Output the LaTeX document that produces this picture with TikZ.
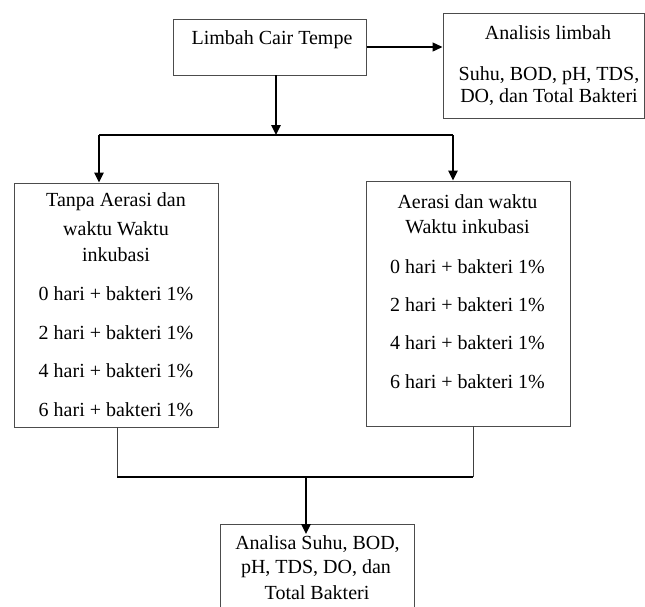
\documentclass[tikz,border=0pt]{standalone}
\usepackage{fontspec}
\setmainfont{Liberation Serif}
\usetikzlibrary{arrows.meta}
\begin{document}
\begin{tikzpicture}[x=1pt,y=-1pt,
  boxst/.style={draw=black!70,line width=1pt,inner sep=0pt},
  txt/.style={inner sep=0pt,font=\fontsize{20}{24}\selectfont,anchor=center},
  thick/.style={line width=2.4pt,black},
  thin/.style={line width=1pt,black!75},
  tip/.style={-{Triangle[length=10pt,width=9pt]}}]
\useasboundingbox (0,0) rectangle (645,606);
\clip (0,0) rectangle (645,606);
% boxes
\node[boxst,minimum width=193pt,minimum height=56pt] (top) at (269.5,47) {};
\node[boxst,minimum width=201pt,minimum height=105pt] (anal) at (543.5,65.5) {};
\node[boxst,minimum width=204pt,minimum height=244pt] (lbox) at (116,305) {};
\node[boxst,minimum width=204pt,minimum height=245pt] (rbox) at (468,303.5) {};
\node[boxst,minimum width=194pt,minimum height=100pt] (bbox) at (317,574) {};
% texts
\node[txt] (t1) at (272,40) {Limbah Cair Tempe};
\node[txt] (a1) at (548,33) {Analisis limbah};
\node[txt] (a2) at (549,76) {Suhu, BOD, pH, TDS,};
\node[txt] (a3) at (549,97) {DO, dan Total Bakteri};
\node[txt] (l1) at (116,202) {Tanpa Aerasi dan};
\node[txt] (l2) at (116,229) {waktu Waktu};
\node[txt] (l3) at (116,255) {inkubasi};
\node[txt] (l4) at (116,294) {0 hari + bakteri 1\%};
\node[txt] (l5) at (116,333) {2 hari + bakteri 1\%};
\node[txt] (l6) at (116,371) {4 hari + bakteri 1\%};
\node[txt] (l7) at (116,410) {6 hari + bakteri 1\%};
\node[txt] (r1) at (467.5,202) {Aerasi dan waktu};
\node[txt] (r2) at (467.5,227) {Waktu inkubasi};
\node[txt] (r3) at (467.5,267) {0 hari + bakteri 1\%};
\node[txt] (r4) at (467.5,305) {2 hari + bakteri 1\%};
\node[txt] (r5) at (467.5,343) {4 hari + bakteri 1\%};
\node[txt] (r6) at (467.5,382) {6 hari + bakteri 1\%};
\node[txt] (b1) at (317.5,544) {Analisa Suhu, BOD,};
\node[txt] (b2) at (316,569) {pH, TDS, DO, dan};
\node[txt] (b3) at (317,593) {Total Bakteri};
% junction coordinates
\coordinate (ts) at (276,75);
\coordinate (j1) at (276,135);
\coordinate (jl) at (99,135);
\coordinate (jr) at (453,135);
\coordinate (ls) at (117,427);
\coordinate (rs) at (473,426);
\coordinate (kl) at (117,477);
\coordinate (kr) at (473,477);
\coordinate (km) at (306,477);
\coordinate (bt) at (306,534);
% connectors
\draw[thin,black,line width=1.4pt,tip] (top.east |- 0,47) -- (anal.west |- 0,47);
\draw[thick,tip] (ts) -- (j1);
\draw[thick] (jl) -- (jr);
\draw[thick,tip] (jl) -- (jl |- lbox.north);
\draw[thick,tip] (jr) -- (jr |- rbox.north);
\draw[thin] (ls) -- (kl);
\draw[thin] (rs) -- (kr);
\draw[thick] (kl) -- (kr);
\draw[thick,tip] (km) -- (bt);
\end{tikzpicture}
\end{document}
